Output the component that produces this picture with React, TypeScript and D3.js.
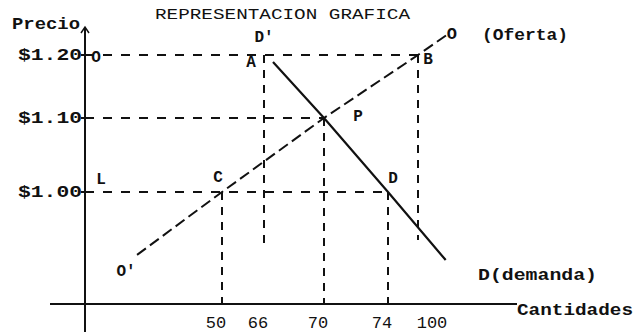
import React from 'react'
import * as d3 from 'd3'

// values
const quantityTicks = [50, 66, 70, 74, 100]
const priceTicks = [1.0, 1.1, 1.2]
const priceLabels = ['$1.00', '$1.10', '$1.20']

// supply O' -> C -> P -> B -> O
const supply = [
  { q: 19, p: 0.915 },
  { q: 50, p: 1.0 },
  { q: 70, p: 1.1 },
  { q: 100, p: 1.2 },
  { q: 125, p: 1.232 },
]

// demand D' -> P -> D -> end
const demand = [
  { q: 66.6, p: 1.189 },
  { q: 70, p: 1.1 },
  { q: 74, p: 1.0 },
  { q: 124, p: 0.908 },
]

// horizontal guides: price level out to quantity
const priceGuides = [
  { p: 1.2, q: 100 },
  { p: 1.1, q: 70 },
  { p: 1.0, q: 74 },
]

// vertical guides: quantity from price down to price (null = down to axis)
const quantityGuides = [
  { q: 50, top: 1.0, bottom: null },
  { q: 66, top: 1.2, bottom: 0.925 },
  { q: 70, top: 1.1, bottom: null },
  { q: 74, top: 1.0, bottom: null },
  { q: 100, top: 1.2, bottom: 0.935 },
]

const pointNames = ['O', 'A', "D'", 'B', 'P', 'L', 'C', 'D', "O'"]
const pointQ = [0, 66, 66, 100, 70, 0, 50, 74, 19]
const pointP = [1.2, 1.2, 1.2, 1.2, 1.1, 1.0, 1.0, 1.0, 0.915]

const title = 'REPRESENTACION GRAFICA'

export default function App() {
  const width = 635
  const height = 332
  const axisY = 304

  // the hand-drawn axes are not evenly spaced, so the scales are piecewise
  const x = d3.scaleLinear().domain([0, 50, 66, 70, 74, 100]).range([85, 222, 264, 324, 388, 418])
  const y = d3.scaleLinear().domain([1.0, 1.1, 1.2]).range([192, 118, 55])

  const line = d3.line<{ q: number; p: number }>()
    .x(d => x(d.q))
    .y(d => y(d.p))

  const labelOffsets: Record<string, [number, number]> = {
    'O': [11, 3],
    'A': [-13, 8],
    "D'": [0, -17],
    'B': [10, 5],
    'P': [34, -1],
    'L': [16, -12],
    'C': [-4, -14],
    'D': [5, -13],
    "O'": [-11, 17],
  }

  const font = {
    fontFamily: '"Liberation Mono", "DejaVu Sans Mono", monospace',
    fontWeight: 700,
    fill: '#111',
  }

  return (
    <svg width={width} height={height}
      style={{ position: 'fixed', left: 0, top: 0, background: '#fff' }}>
      <rect width={width} height={height} fill='#fff' />

      {/* title */}
      <text x={155} y={15} dominantBaseline='middle' fontSize={15}
        textLength={255} lengthAdjust='spacingAndGlyphs' {...font} fontWeight={400}>{title}</text>

      {/* axes */}
      <g stroke='#111' strokeWidth={2} fill='none'>
        <line x1={x(0)} x2={x(0)} y1={28} y2={height} />
        <path d={`M${x(0) - 4},33 L${x(0)},27 L${x(0) + 4},33`} strokeWidth={1.5} />
        <line x1={50} x2={517} y1={axisY} y2={axisY} />
      </g>
      <text x={12} y={25} dominantBaseline='middle' fontSize={17}
        textLength={68} lengthAdjust='spacingAndGlyphs' {...font}>Precio</text>
      <text x={517} y={311} dominantBaseline='middle' fontSize={17}
        textLength={116} lengthAdjust='spacingAndGlyphs' {...font}>Cantidades</text>

      {/* price ticks */}
      {priceTicks.map((p, i) => (
        <g key={p}>
          <line x1={x(0) - 4} x2={x(0)} y1={y(p)} y2={y(p)} stroke='#111' strokeWidth={2} />
          <text x={x(0) - 3} y={y(p) + 1} textAnchor='end' dominantBaseline='middle'
            fontSize={17} textLength={64} lengthAdjust='spacingAndGlyphs' {...font}>{priceLabels[i]}</text>
        </g>
      ))}

      {/* quantity ticks */}
      {quantityTicks.map(q => (
        <text key={q} x={x(q) - 6 + (q === 100 ? 20 : 0)} y={324} textAnchor='middle'
          dominantBaseline='middle' fontSize={17} {...font} fontWeight={400}>{q}</text>
      ))}

      {/* guide lines */}
      <g stroke='#111' strokeWidth={2} fill='none'>
        {priceGuides.map(g => (
          <line key={g.p} x1={x(0)} x2={x(g.q)} y1={y(g.p)} y2={y(g.p)} strokeDasharray='9,9' />
        ))}
        {quantityGuides.map(g => (
          <line key={g.q} x1={x(g.q)} x2={x(g.q)} y1={y(g.top)}
            y2={g.bottom === null ? axisY : y(g.bottom)} strokeDasharray='8,7' />
        ))}
      </g>

      {/* supply and demand */}
      <path d={line(supply) ?? ''} stroke='#111' strokeWidth={2} fill='none' strokeDasharray='11,5' />
      <path d={line(demand) ?? ''} stroke='#111' strokeWidth={2.2} fill='none' />

      {/* point labels */}
      {pointNames.map((name, i) => {
        const [dx, dy] = labelOffsets[name]
        return (
          <text key={name} x={x(pointQ[i]) + dx} y={y(pointP[i]) + dy} textAnchor='middle'
            dominantBaseline='middle' fontSize={16} {...font}>{name}</text>
        )
      })}

      {/* curve names */}
      <text x={x(supply[supply.length - 1].q) + 5} y={y(supply[supply.length - 1].p)}
        textAnchor='middle' dominantBaseline='middle' fontSize={17} {...font}>O</text>
      <text x={482} y={36} dominantBaseline='middle' fontSize={17}
        textLength={86} lengthAdjust='spacingAndGlyphs' {...font}>(Oferta)</text>
      <text x={478} y={276} dominantBaseline='middle' fontSize={17}
        textLength={119} lengthAdjust='spacingAndGlyphs' {...font}>D(demanda)</text>
    </svg>
  )
}
